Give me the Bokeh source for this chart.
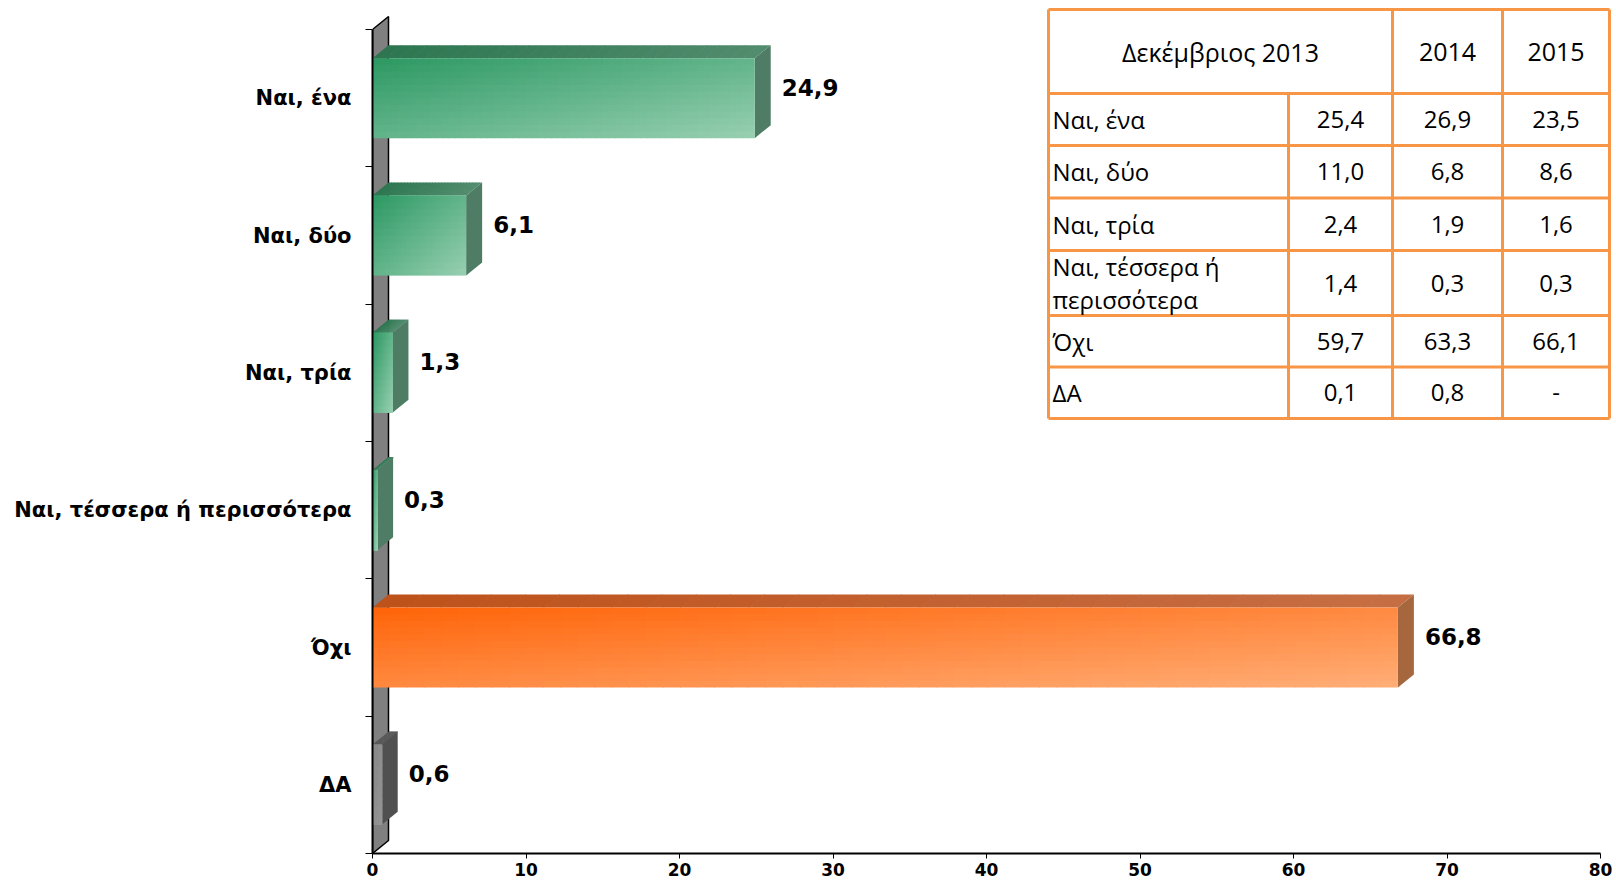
import numpy as np
from bokeh.plotting import figure
from bokeh.models import Range1d, FixedTicker, ColumnDataSource
from bokeh.embed import file_html
from bokeh.resources import INLINE
from bokeh.core.properties import value

# ---------------- data ----------------
categories = ["Ναι, ένα", "Ναι, δύο", "Ναι, τρία",
              "Ναι, τέσσερα ή περισσότερα", "Όχι", "ΔΑ"]
values = [24.9, 6.1, 1.3, 0.3, 66.8, 0.6]
bar_groups = ["green", "green", "green", "green", "orange", "gray"]
x_ticks = [0, 10, 20, 30, 40, 50, 60, 70, 80]

table_header = ["Δεκέμβριος 2013", "2014", "2015"]
table_rows = ["Ναι, ένα", "Ναι, δύο", "Ναι, τρία",
              "Ναι, τέσσερα ή\nπερισσότερα", "Όχι", "ΔΑ"]
dec_2013 = [25.4, 11.0, 2.4, 1.4, 59.7, 0.1]
year_2014 = [26.9, 6.8, 1.9, 0.3, 63.3, 0.8]
year_2015 = [23.5, 8.6, 1.6, 0.3, 66.1, None]

def fmt(v):
    return "-" if v is None else f"{v:.1f}".replace(".", ",")

# ---------------- layout (page pixels) ----------------
FIG_W = 1616
FRAME_LEFT = 372
AXIS_BOTTOM = 853
BAND_TOP = 29
X80 = 1600
PX_X = (X80 - FRAME_LEFT) / 80.0
n = len(categories)
PX_Y = (AXIS_BOTTOM - BAND_TOP) / n

def X(px):
    return (px - FRAME_LEFT) / PX_X

def Y(py):
    return (AXIS_BOTTOM - py) / PX_Y

DEPTH_X = 16 / PX_X
DEPTH_Y = 13 / PX_Y
BAR_H = 80 / PX_Y

p = figure(frame_width=FIG_W - FRAME_LEFT, frame_height=AXIS_BOTTOM,
           x_range=Range1d(0, X(FIG_W)), y_range=Range1d(0, Y(0)),
           output_backend="svg", toolbar_location=None,
           min_border_left=FRAME_LEFT, min_border_right=0,
           min_border_top=0, min_border_bottom=0)
p.outline_line_color = None
p.grid.visible = False
p.background_fill_color = "white"
p.border_fill_color = "white"

# axes
p.xaxis.ticker = FixedTicker(ticks=x_ticks)
p.xaxis.bounds = (0, 80)
p.xaxis.axis_line_width = 2
p.xaxis.axis_line_color = "black"
p.xaxis.major_tick_in = 0
p.xaxis.major_tick_out = 5
p.xaxis.minor_tick_out = 0
p.xaxis.minor_tick_in = 0
p.xaxis.major_label_standoff = 4
p.xaxis.major_label_text_font = "DejaVu Sans"
p.xaxis.major_label_text_font_style = "bold"
p.xaxis.major_label_text_font_size = "17px"
p.xaxis.major_label_text_color = "black"

centers = [n - i - 0.5 for i in range(n)]
p.yaxis.ticker = FixedTicker(ticks=centers, minor_ticks=list(range(n + 1)))
p.yaxis.major_label_overrides = {c: cat for c, cat in zip(centers, categories)}
p.yaxis.bounds = (0, n)
p.yaxis.axis_line_width = 2
p.yaxis.axis_line_color = "black"
p.yaxis.major_tick_in = 0
p.yaxis.major_tick_out = 0
p.yaxis.minor_tick_in = 0
p.yaxis.minor_tick_out = 7
p.yaxis.minor_tick_line_color = "black"
p.yaxis.major_label_standoff = 14
p.yaxis.major_label_text_font = "DejaVu Sans"
p.yaxis.major_label_text_font_style = "bold"
p.yaxis.major_label_text_font_size = "21px"
p.yaxis.major_label_text_color = "black"

# wall
p.patch([0, DEPTH_X, DEPTH_X, 0], [0, DEPTH_Y, n + DEPTH_Y, n],
        fill_color="#808080", line_color="black", line_width=1.5)

PAL = {
    "green": dict(f0=(44, 152, 98), f1=(152, 208, 178), t0=(44, 118, 80),
                  t1=(82, 140, 110), s=(78, 124, 100)),
    "orange": dict(f0=(255, 100, 8), f1=(255, 174, 120), t0=(190, 82, 26),
                   t1=(198, 110, 68), s=(166, 102, 62)),
    "gray": dict(f0=(136, 136, 136), f1=(150, 150, 150), t0=(92, 92, 92),
                 t1=(92, 92, 92), s=(80, 80, 80)),
}

def lerp(c0, c1, t):
    return "#%02x%02x%02x" % tuple(int(round(a + (b - a) * t)) for a, b in zip(c0, c1))

fq = dict(left=[], right=[], top=[], bottom=[], color=[])
tp = dict(xs=[], ys=[], color=[])
sd = dict(xs=[], ys=[], color=[])
NX, NY = 60, 12
EPX = 0.8 / PX_X
EPY = 0.8 / PX_Y
for v, c, g in zip(values, centers, bar_groups):
    pal = PAL[g]
    y0, y1 = c - BAR_H / 2, c + BAR_H / 2
    # front face gradient (cells overlap slightly to hide seams)
    for i in range(NX):
        for j in range(NY):
            t = ((i + 0.5) / NX + (j + 0.5) / NY) / 2
            r = v * (i + 1) / NX
            b = y1 - BAR_H * (j + 1) / NY
            fq["left"].append(v * i / NX)
            fq["right"].append(r if i == NX - 1 else r + EPX)
            fq["top"].append(y1 - BAR_H * j / NY)
            fq["bottom"].append(b if j == NY - 1 else b - EPY)
            fq["color"].append(lerp(pal["f0"], pal["f1"], t))
    # top face
    NT = 30
    for i in range(NT):
        xa, xb = v * i / NT, v * (i + 1) / NT
        if i < NT - 1:
            xb += EPX
        tp["xs"].append([xa, xb, xb + DEPTH_X, xa + DEPTH_X])
        tp["ys"].append([y1, y1, y1 + DEPTH_Y, y1 + DEPTH_Y])
        tp["color"].append(lerp(pal["t0"], pal["t1"], (i + 0.5) / NT))
    # side face
    sd["xs"].append([v, v + DEPTH_X, v + DEPTH_X, v])
    sd["ys"].append([y0, y0 + DEPTH_Y, y1 + DEPTH_Y, y1])
    sd["color"].append(lerp(pal["s"], pal["s"], 0))

p.patches("xs", "ys", source=ColumnDataSource(tp), fill_color="color",
          line_color=None)
p.patches("xs", "ys", source=ColumnDataSource(sd), fill_color="color",
          line_color=None)
p.quad(left="left", right="right", top="top", bottom="bottom",
       source=ColumnDataSource(fq), fill_color="color", line_color=None)

# value labels
p.text(x=values, y=centers, text=[fmt(v) for v in values],
       x_offset=27, y_offset=-11, text_align="left", text_baseline="middle",
       text_font=value("DejaVu Sans"), text_font_style="bold",
       text_font_size="23px", text_color="black")

# ---------------- table ----------------
TX = [1048, 1288, 1392, 1502, 1609]
TY = [9, 93, 145, 197.5, 250, 315, 366.5, 418]
seg = dict(x0=[], y0=[], x1=[], y1=[])
for yy in TY:
    seg["x0"].append(X(TX[0])); seg["x1"].append(X(TX[-1]))
    seg["y0"].append(Y(yy)); seg["y1"].append(Y(yy))
for k, xx in enumerate(TX):
    top = TY[1] if k == 1 else TY[0]
    seg["x0"].append(X(xx)); seg["x1"].append(X(xx))
    seg["y0"].append(Y(top)); seg["y1"].append(Y(TY[-1]))
p.segment("x0", "y0", "x1", "y1", source=ColumnDataSource(seg),
          line_color="#F79646", line_width=3)

head_x = [X((TX[0] + TX[2]) / 2), X((TX[2] + TX[3]) / 2), X((TX[3] + TX[4]) / 2)]
hy = Y((TY[0] + TY[1]) / 2)
tfont = value("Open Sans")
p.text(x=head_x, y=[hy] * 3, text=table_header, text_align="center",
       text_baseline="middle", text_font=tfont, text_font_size="25px",
       text_color="black")

row_y = [Y((TY[k + 1] + TY[k + 2]) / 2) for k in range(n)]
p.text(x=[X(TX[0] + 4)] * n, y=row_y, text=table_rows, text_align="left",
       text_baseline="middle", text_font=tfont, text_font_size="24px",
       text_color="black", text_line_height=1.0)
for k, col in enumerate([dec_2013, year_2014, year_2015]):
    cx = X((TX[k + 1] + TX[k + 2]) / 2)
    p.text(x=[cx] * n, y=row_y, text=[fmt(v) for v in col], text_align="center",
           text_baseline="middle", text_font=tfont, text_font_size="24px",
           text_color="black")

open("out.html", "w").write(file_html(p, INLINE))
